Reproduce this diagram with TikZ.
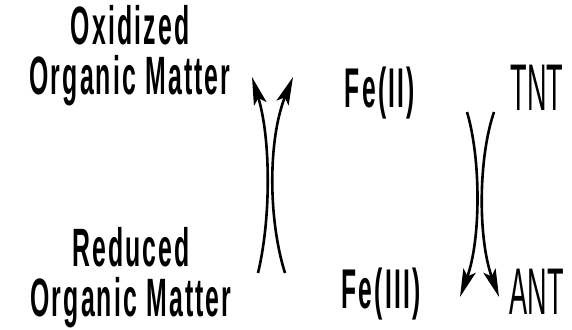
\documentclass[tikz,border=0pt]{standalone}
\usepackage{fontspec}
\usepackage{tikz}
\usetikzlibrary{positioning,arrows.meta}
\newfontfamily\labelfont[FakeStretch=0.46,LetterSpace=4]{Liberation Sans}
\newfontfamily\ironfont[FakeStretch=0.44,LetterSpace=4]{Liberation Sans}
\newfontfamily\chemfont[FakeStretch=0.41]{Liberation Sans}

\begin{document}
\begin{tikzpicture}[
  x=0.5pt, y=0.5pt,
  matter/.style = {align=center, inner sep=0pt, anchor=base,
                   font=\labelfont\bfseries\fontsize{27}{24}\selectfont},
  iron/.style   = {inner sep=0pt, anchor=base,
                   font=\ironfont\bfseries\fontsize{28}{30}\selectfont},
  nitro/.style  = {inner sep=0pt, anchor=base, text depth=0pt,
                   font=\chemfont\fontsize{33}{36}\selectfont},
  arrow/.style  = {-{Stealth[length=14pt,width=6.5pt,inset=3pt]}, line width=1.3pt, draw=black}
]
\useasboundingbox (0,0) rectangle (572,329);

\node[matter] (oxid) at (130,235) {Oxidized\\[1pt]Organic Matter};
\node[matter] (red)  at (131,13)  {Reduced\\[1pt]Organic Matter};

\node[iron]  (fe2) at (380,222) {Fe(II)};
\node[iron]  (fe3) at (381,21)  {Fe(III)};
\node[nitro] (tnt) at (537,219) {TNT};
\node[nitro] (ant) at (537,15)  {ANT};

\coordinate (omA) at (258,56);
\coordinate (omB) at (285,56);
\coordinate (omC) at (252,252);
\coordinate (omD) at (293,252);
\coordinate (feA) at (467,217);
\coordinate (feB) at (494,217);
\coordinate (feC) at (460,32);
\coordinate (feD) at (499,32);

\draw[arrow] (omA) .. controls (271,110) and (271,190) .. (omC);
\draw[arrow] (omB) .. controls (268,110) and (268,190) .. (omD);
\draw[arrow] (feA) .. controls (481,170) and (481,90) .. (feC);
\draw[arrow] (feB) .. controls (478,170) and (478,90) .. (feD);

\end{tikzpicture}
\end{document}
